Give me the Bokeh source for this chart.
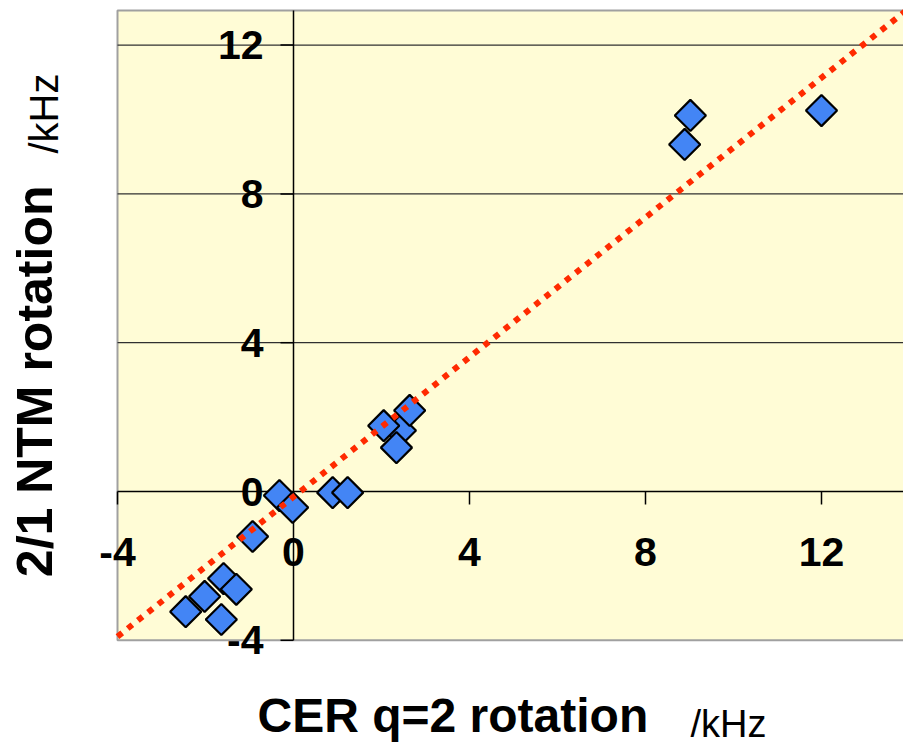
import math

from bokeh.core.properties import value
from bokeh.embed import file_html
from bokeh.resources import INLINE
from bokeh.plotting import figure

# CER rotation at q=2 vs. 2/1 NTM rotation, both in kHz
cer_q2 = [2.43, 2.05, 2.34, 2.64, 9.02, 8.89, 12.00, 0.89, 1.23,
          -0.32, -0.02, -0.93, -1.59, -1.30, -2.02, -2.45, -1.64]
ntm_21 = [1.64, 1.77, 1.18, 2.18, 10.11, 9.33, 10.24, -0.03, -0.03,
          -0.11, -0.43, -1.21, -2.34, -2.63, -2.82, -3.23, -3.44]

# dotted guide line through the cloud
guide_x = [-4.0, 14.0]
guide_y = [-3.9, 13.0]

x_ticks = [-4, 0, 4, 8, 12]
x_tick_labels = ["-4", "0", "4", "8", "12"]
y_ticks = [-4, 0, 4, 8, 12]
y_tick_labels = ["-4", "0", "4", "8", "12"]
y_grid = [4, 8, 12]

# plotting box in data units
X_MIN, X_MAX = -4.0, 14.0
Y_MIN, Y_MAX = -4.0, 12.93

FONT = value("Liberation Sans")
PX_X = 44.0   # pixels per kHz, horizontal
PX_Y = 37.2   # pixels per kHz, vertical
X0_PX, Y0_PX = 293, 491   # page position of the origin


def sx(px):
    """page x pixel -> data x"""
    return (px - X0_PX) / PX_X


def sy(py):
    """page y pixel (from top) -> data y"""
    return (Y0_PX - py) / PX_Y


# the canvas spans the whole page; the plotting box is drawn inside it
p = figure(width=903, height=743, output_backend="svg", toolbar_location=None,
           x_range=(sx(0), sx(903)), y_range=(sy(743), sy(0)),
           x_axis_location=None, y_axis_location=None, min_border=0)
p.outline_line_color = None
p.background_fill_color = "white"
p.border_fill_color = "white"
p.grid.visible = False

# plotting box
p.quad(left=[X_MIN], right=[X_MAX], bottom=[Y_MIN], top=[Y_MAX],
       fill_color="#fffcd6", line_color="#a0a0a0", line_width=2)

# horizontal grid lines
p.segment(x0=[X_MIN] * len(y_grid), x1=[X_MAX] * len(y_grid), y0=y_grid, y1=y_grid,
          line_color="#303030", line_width=1.2)

# axes crossing at the origin
p.segment(x0=[X_MIN, 0], x1=[X_MAX, 0], y0=[0, Y_MIN], y1=[0, Y_MAX],
          line_color="black", line_width=1.5)

# tick marks
tick_dx = 13 / PX_X
tick_dy = 13 / PX_Y
yt = [t for t in y_ticks if t != 0]
p.segment(x0=[-tick_dx] * len(yt), x1=[0] * len(yt), y0=yt, y1=yt,
          line_color="black", line_width=1.5)
xt = [t for t in x_ticks if t != 0]
p.segment(x0=xt, x1=xt, y0=[0] * len(xt), y1=[-tick_dy] * len(xt),
          line_color="black", line_width=1.5)

# data points
p.scatter(cer_q2, ntm_21, marker="square", angle=math.pi / 4, size=22,
          fill_color="#4385f5", line_color="black", line_width=2.2)

# guide line
p.line(guide_x, guide_y, line_color="#ff2a00", line_width=6, line_dash="6 7")

# tick labels
p.text(x=x_ticks, y=[-60 / PX_Y] * len(x_ticks), text=x_tick_labels,
       text_font=FONT, text_font_style="bold", text_font_size="41px",
       text_align="center", text_baseline="middle", text_color="black")
p.text(x=[-30 / PX_X] * len(y_ticks), y=y_ticks, text=y_tick_labels,
       text_font=FONT, text_font_style="bold", text_font_size="41px",
       text_align="right", text_baseline="middle", text_color="black")

# axis titles
p.text(x=[sx(257)], y=[sy(715)], text=["CER q=2 rotation"],
       text_font=FONT, text_font_style="bold", text_font_size="48px",
       text_align="left", text_baseline="alphabetic", text_color="black")
p.text(x=[sx(690)], y=[sy(723)], text=["/kHz"],
       text_font=FONT, text_font_size="38px",
       text_align="left", text_baseline="alphabetic", text_color="black")
p.text(x=[sx(34)], y=[sy(185)], text=["2/1 NTM rotation"],
       angle=math.pi / 2, text_font=FONT, text_font_style="bold", text_font_size="50px",
       text_align="right", text_baseline="alphabetic", text_color="black")
p.text(x=[sx(43)], y=[sy(153)], text=["/kHz"],
       angle=math.pi / 2, text_font=FONT, text_font_size="40px",
       text_align="left", text_baseline="alphabetic", text_color="black")

open("out.html", "w").write(file_html(p, INLINE))
